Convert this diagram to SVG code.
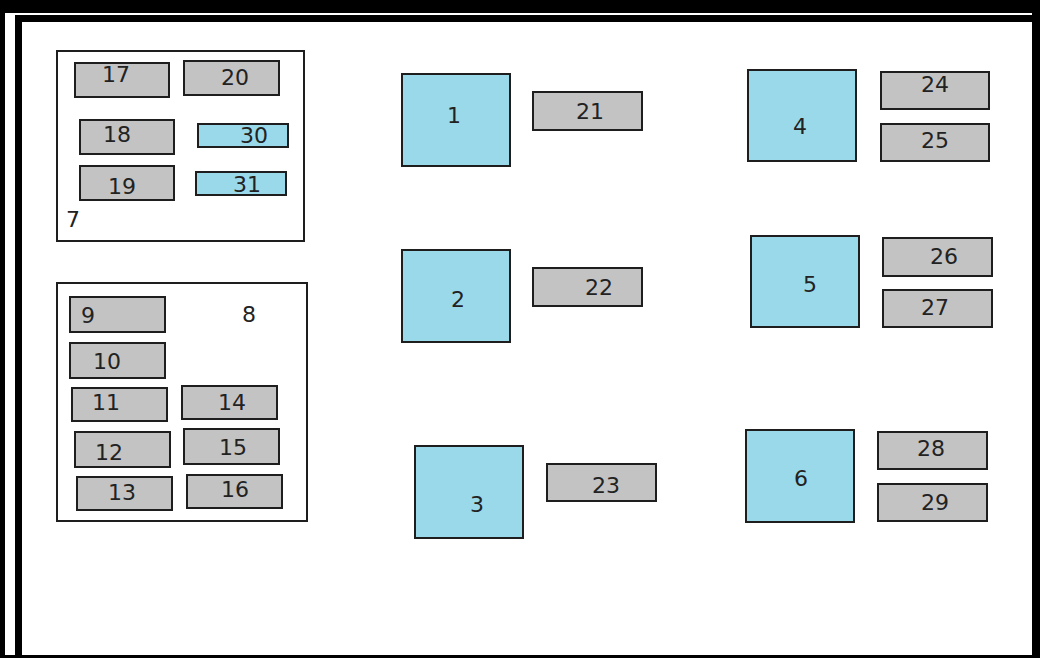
<svg xmlns="http://www.w3.org/2000/svg" width="1040" height="658" viewBox="0 0 1040 658">
<style>
.g{fill:#c3c3c3;stroke:#1e1e1e;stroke-width:2}
.b{fill:#99d9ea;stroke:#1e1e1e;stroke-width:2}
.c{fill:none;stroke:#1e1e1e;stroke-width:2}
text{font-family:"DejaVu Sans",Verdana,sans-serif;font-size:22px;fill:#222}
.m{text-anchor:middle}
</style>
<rect x="0" y="0" width="1040" height="658" fill="#000"/>
<rect x="5" y="13" width="1027" height="642" fill="#fff"/>
<path d="M18.5,655 V18.5 H1033" fill="none" stroke="#000" stroke-width="7"/>
<rect x="1033" y="13" width="7" height="645" fill="#000"/>
<rect x="0" y="655" width="1040" height="3" fill="#000"/>
<g id="connectors"></g>
<g id="n7"><rect class="c" x="57" y="51" width="247" height="190"/><text x="66" y="227">7</text></g>
<g id="n17"><rect class="g" x="75" y="63" width="94" height="34"/><text class="m" x="116" y="82">17</text></g>
<g id="n20"><rect class="g" x="184" y="61" width="95" height="34"/><text class="m" x="235" y="85">20</text></g>
<g id="n18"><rect class="g" x="80" y="120" width="94" height="34"/><text class="m" x="117" y="142">18</text></g>
<g id="n30"><rect class="b" x="198" y="124" width="90" height="23"/><text class="m" x="254" y="143">30</text></g>
<g id="n19"><rect class="g" x="80" y="166" width="94" height="34"/><text class="m" x="122" y="194">19</text></g>
<g id="n31"><rect class="b" x="196" y="172" width="90" height="23"/><text class="m" x="247" y="192">31</text></g>
<g id="n8"><rect class="c" x="57" y="283" width="250" height="238"/><text class="m" x="249" y="322">8</text></g>
<g id="n9"><rect class="g" x="70" y="297" width="95" height="35"/><text x="81" y="323">9</text></g>
<g id="n10"><rect class="g" x="70" y="343" width="95" height="35"/><text class="m" x="107" y="369">10</text></g>
<g id="n11"><rect class="g" x="72" y="388" width="95" height="33"/><text class="m" x="106" y="410">11</text></g>
<g id="n14"><rect class="g" x="182" y="386" width="95" height="33"/><text class="m" x="232" y="410">14</text></g>
<g id="n12"><rect class="g" x="75" y="432" width="95" height="35"/><text class="m" x="109" y="460">12</text></g>
<g id="n15"><rect class="g" x="184" y="429" width="95" height="35"/><text class="m" x="233" y="455">15</text></g>
<g id="n13"><rect class="g" x="77" y="477" width="95" height="33"/><text class="m" x="122" y="500">13</text></g>
<g id="n16"><rect class="g" x="187" y="475" width="95" height="33"/><text class="m" x="235" y="497">16</text></g>
<g id="n1"><rect class="b" x="402" y="74" width="108" height="92"/><text class="m" x="454" y="123">1</text></g>
<g id="n21"><rect class="g" x="533" y="92" width="109" height="38"/><text class="m" x="590" y="119">21</text></g>
<g id="n2"><rect class="b" x="402" y="250" width="108" height="92"/><text class="m" x="458" y="307">2</text></g>
<g id="n22"><rect class="g" x="533" y="268" width="109" height="38"/><text class="m" x="599" y="295">22</text></g>
<g id="n3"><rect class="b" x="415" y="446" width="108" height="92"/><text class="m" x="477" y="512">3</text></g>
<g id="n23"><rect class="g" x="547" y="464" width="109" height="37"/><text class="m" x="606" y="493">23</text></g>
<g id="n4"><rect class="b" x="748" y="70" width="108" height="91"/><text class="m" x="800" y="134">4</text></g>
<g id="n24"><rect class="g" x="881" y="72" width="108" height="37"/><text class="m" x="935" y="92">24</text></g>
<g id="n25"><rect class="g" x="881" y="124" width="108" height="37"/><text class="m" x="935" y="148">25</text></g>
<g id="n5"><rect class="b" x="751" y="236" width="108" height="91"/><text class="m" x="810" y="292">5</text></g>
<g id="n26"><rect class="g" x="883" y="238" width="109" height="38"/><text class="m" x="944" y="264">26</text></g>
<g id="n27"><rect class="g" x="883" y="290" width="109" height="37"/><text class="m" x="935" y="315">27</text></g>
<g id="n6"><rect class="b" x="746" y="430" width="108" height="92"/><text class="m" x="801" y="486">6</text></g>
<g id="n28"><rect class="g" x="878" y="432" width="109" height="37"/><text class="m" x="931" y="456">28</text></g>
<g id="n29"><rect class="g" x="878" y="484" width="109" height="37"/><text class="m" x="935" y="510">29</text></g>
</svg>
